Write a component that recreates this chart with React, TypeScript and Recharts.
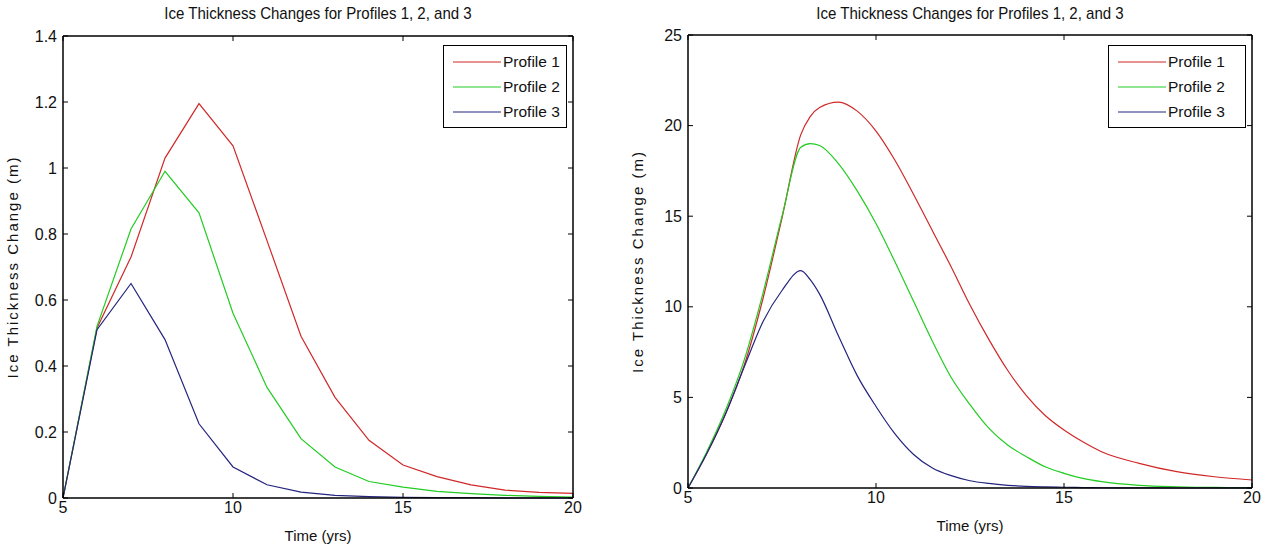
import React from 'react';
import { LineChart, Line, XAxis, YAxis } from 'recharts';

const FONT = "'Liberation Sans', Arial, sans-serif";
const TITLE = 'Ice Thickness Changes for Profiles 1, 2, and 3';
const X_LABEL = 'Time (yrs)';
const Y_LABEL = 'Ice Thickness Change (m)';
const SERIES_NAMES = ['Profile 1', 'Profile 2', 'Profile 3'];
const COLORS = ['#d02828', '#22cc22', '#24247e'];

// Left chart (yearly values)
const leftYears = [5, 6, 7, 8, 9, 10, 11, 12, 13, 14, 15, 16, 17, 18, 19, 20];
const leftProfile1 = [0, 0.515, 0.73, 1.03, 1.195, 1.067, 0.78, 0.49, 0.305, 0.175, 0.1, 0.065, 0.04, 0.024, 0.017, 0.014];
const leftProfile2 = [0, 0.52, 0.815, 0.99, 0.864, 0.56, 0.335, 0.18, 0.094, 0.05, 0.033, 0.02, 0.013, 0.008, 0.005, 0.003];
const leftProfile3 = [0, 0.51, 0.65, 0.48, 0.225, 0.094, 0.04, 0.018, 0.008, 0.004, 0.002, 0.001, 0.001, 0, 0, 0];
const leftXTicks = [5, 10, 15, 20];
const leftYTicks = [0, 0.2, 0.4, 0.6, 0.8, 1, 1.2, 1.4];

// Right chart (half-year values)
const rightYears = [5, 5.5, 6, 6.5, 7, 7.5, 8, 8.25, 8.5, 9, 9.5, 10, 10.5, 11, 11.5, 12, 12.5, 13, 13.5, 14, 14.5, 15, 15.5, 16, 17, 18, 19, 20];
const rightProfile1 = [0, 1.9, 4.1, 6.8, 10.5, 14.9, 19.5, 20.5, 21.0, 21.3, 20.8, 19.7, 18.1, 16.2, 14.2, 12.2, 10.1, 8.2, 6.5, 5.1, 4.0, 3.2, 2.55, 2.0, 1.36, 0.9, 0.62, 0.44];
const rightProfile2 = [0, 2.0, 4.3, 7.1, 10.8, 15.0, 18.8, 19.0, 18.9, 17.9, 16.4, 14.6, 12.5, 10.3, 8.1, 6.1, 4.6, 3.3, 2.37, 1.73, 1.17, 0.81, 0.53, 0.35, 0.15, 0.07, 0.03, 0.02];
const rightProfile3 = [0, 1.9, 4.1, 6.7, 9.2, 10.9, 12.0, 11.5, 10.7, 8.4, 6.2, 4.5, 3.0, 1.85, 1.1, 0.68, 0.4, 0.25, 0.15, 0.09, 0.06, 0.04, 0.025, 0.015, 0.008, 0, 0, 0];
const rightXTicks = [5, 10, 15, 20];
const rightYTicks = [0, 5, 10, 15, 20, 25];

const leftData = leftYears.map((t, i) => ({ t, p1: leftProfile1[i], p2: leftProfile2[i], p3: leftProfile3[i] }));
const rightData = rightYears.map((t, i) => ({ t, p1: rightProfile1[i], p2: rightProfile2[i], p3: rightProfile3[i] }));

const LegendBox = ({ top, left, width }: { top: number; left: number; width: number }) => (
  <div style={{ position: 'absolute', top, left, width, border: '1px solid #000', background: '#fff', padding: '3px 0 3px 0', fontFamily: FONT, fontSize: 15.5, boxSizing: 'border-box' }}>
    {SERIES_NAMES.map((n, i) => (
      <div key={n} style={{ display: 'flex', alignItems: 'center', height: 25 }}>
        <svg width={57} height={10} style={{ display: 'block' }}>
          <line x1={9} y1={5} x2={57} y2={5} stroke={COLORS[i]} strokeWidth={1.2} />
        </svg>
        <span style={{ marginLeft: 2, color: '#111', lineHeight: '25px' }}>{n}</span>
      </div>
    ))}
  </div>
);

const noTick = () => <g />;

type PanelProps = {
  data: any[];
  left: number;
  width: number;
  margin: { top: number; right: number; bottom: number; left: number };
  yDomain: [number, number];
  yTicks: number[];
  xTicks: number[];
  smooth: boolean;
  legendPos: { top: number; left: number; width: number };
  titleCenter: number;
};

const Panel = ({ data, left, width, margin, yDomain, yTicks, xTicks, smooth, legendPos, titleCenter }: PanelProps) => {
  const tickStyle = { fontFamily: FONT, fontSize: 16, fill: '#111' };
  const axisLine = { stroke: '#000', strokeWidth: 1.5 };
  return (
    <div style={{ position: 'absolute', left, top: 0, width, height: 550 }}>
      <div style={{ position: 'absolute', top: 3, left: titleCenter - left - 200, width: 400, textAlign: 'center', fontFamily: FONT, fontSize: 17, color: '#111', lineHeight: '22px', transform: 'scaleX(0.885)' }}>
        {TITLE}
      </div>
      <LineChart width={width} height={550} data={data} margin={margin}>
        <XAxis
          dataKey="t"
          type="number"
          domain={[5, 20]}
          ticks={xTicks}
          height={30}
          stroke="#000"
          tickSize={-5}
          tickMargin={9}
          tick={tickStyle}
          axisLine={axisLine}
          label={{ value: X_LABEL, position: 'bottom', offset: 2, style: { fontFamily: FONT, fontSize: 15, fill: '#111' } }}
        />
        <XAxis xAxisId="top" dataKey="t" type="number" domain={[5, 20]} ticks={xTicks} orientation="top" height={1} tickSize={-5} tick={noTick} stroke="#000" axisLine={axisLine} />
        <YAxis
          type="number"
          domain={yDomain}
          ticks={yTicks}
          width={63}
          stroke="#000"
          tickSize={-5}
          tickMargin={11}
          tick={tickStyle}
          axisLine={axisLine}
          label={{ value: Y_LABEL, angle: -90, position: 'insideLeft', offset: 13, style: { textAnchor: 'middle', fontFamily: FONT, fontSize: 15, letterSpacing: 2, fill: '#111' } }}
        />
        <YAxis yAxisId="r" orientation="right" type="number" domain={yDomain} ticks={yTicks} width={1} tickSize={-5} tick={noTick} stroke="#000" axisLine={axisLine} />
        {['p1', 'p2', 'p3'].map((k, i) => (
          <Line
            key={k}
            dataKey={k}
            name={SERIES_NAMES[i]}
            type={smooth ? 'monotone' : 'linear'}
            stroke={COLORS[i]}
            strokeWidth={1.2}
            dot={false}
            isAnimationActive={false}
            {...(i === 2 ? { xAxisId: 'top', yAxisId: 'r' } : {})}
          />
        ))}
      </LineChart>
      <LegendBox top={legendPos.top} left={legendPos.left} width={legendPos.width} />
    </div>
  );
};

export default function App() {
  return (
    <div style={{ position: 'absolute', left: 0, top: 0, width: 1265, height: 550, background: '#fff', overflow: 'hidden' }}>
      <Panel
        data={leftData}
        left={0}
        width={600}
        margin={{ top: 35, right: 26, bottom: 22, left: 0 }}
        yDomain={[0, 1.4]}
        yTicks={leftYTicks}
        xTicks={leftXTicks}
        smooth={false}
        legendPos={{ top: 45, left: 443, width: 124 }}
        titleCenter={318}
      />
      <Panel
        data={rightData}
        left={625}
        width={640}
        margin={{ top: 34, right: 12, bottom: 32, left: 0 }}
        yDomain={[0, 25]}
        yTicks={rightYTicks}
        xTicks={rightXTicks}
        smooth={true}
        legendPos={{ top: 45, left: 1108 - 625, width: 138 }}
        titleCenter={970}
      />
    </div>
  );
}
